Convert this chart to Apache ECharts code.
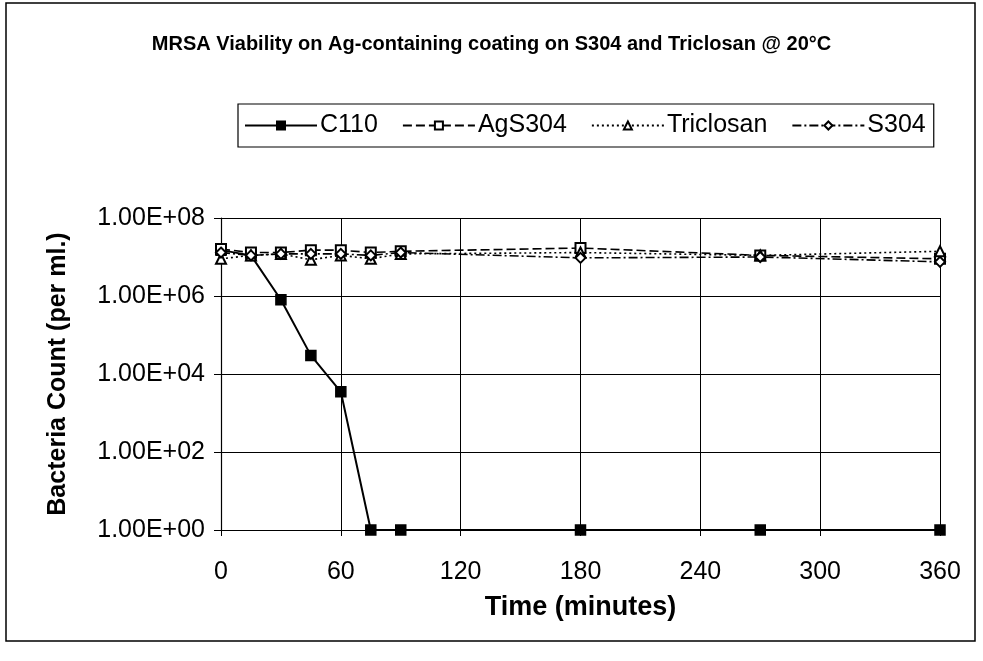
<!DOCTYPE html>
<html>
<head>
<meta charset="utf-8">
<title>MRSA Viability</title>
<script src="https://cdn.jsdelivr.net/npm/echarts@6/dist/echarts.min.js"></script>
<style>
  html, body { margin: 0; padding: 0; background: #fff; }
  #chart { width: 983px; height: 661px; }
</style>
</head>
<body>
<div id="chart"></div>
<script>
'use strict';

// sampling times (minutes)
var times = [0, 15, 30, 45, 60, 75, 90, 180, 270, 360];

// bacteria count per ml
var c110      = [1.5e7, 1.1e7, 8e5, 3e4, 3.5e3, 1, 1, 1, 1, 1];
var agS304    = [1.6e7, 1.3e7, 1.3e7, 1.5e7, 1.5e7, 1.3e7, 1.4e7, 1.7e7, 1.1e7, 9e6];
var triclosan = [9e6, 1.1e7, 1.2e7, 8.5e6, 1.1e7, 9e6, 1.2e7, 1.3e7, 1.1e7, 1.4e7];
var s304      = [1.3e7, 1.1e7, 1.2e7, 1.2e7, 1.2e7, 1.1e7, 1.3e7, 9.5e6, 1.0e7, 7.5e6];

var seriesNames = ['C110', 'AgS304', 'Triclosan', 'S304'];
var xTicks = [0, 60, 120, 180, 240, 300, 360];

var FONT = 'Liberation Sans, Arial, sans-serif';

function pairs(ys) {
  return times.map(function (t, i) { return [t, ys[i]]; });
}

// 1.00E+06 style labels
function sci(v) {
  var e = Math.round(Math.log10(v));
  var m = v / Math.pow(10, e);
  return m.toFixed(2) + 'E+' + (e < 10 ? '0' + e : e);
}

var myChart = echarts.init(document.getElementById('chart'), null, { renderer: 'canvas' });

function line(name, data, symbol, type, width) {
  return {
    name: name,
    type: 'line',
    data: pairs(data),
    symbol: symbol,
    symbolSize: 10,
    showAllSymbol: true,
    color: '#000',
    lineStyle: { color: '#000', width: width, type: type },
    itemStyle: { color: '#000', borderColor: '#000', borderWidth: 1.5 },
    emphasis: { disabled: true },
    animation: false
  };
}

var option = {
  backgroundColor: '#fff',
  animation: false,
  title: {
    text: 'MRSA Viability on Ag-containing coating on S304 and Triclosan @ 20\u00b0C',
    left: 'center',
    top: 29,
    textStyle: { fontFamily: FONT, fontWeight: 'bold', fontSize: 20, color: '#000' }
  },
  legend: {
    data: seriesNames,
    left: 238,
    top: 104,
    itemWidth: 72,
    itemHeight: 10,
    itemGap: 24,
    padding: [9, 8, 9, 6],
    borderColor: '#000',
    borderWidth: 1.2,
    backgroundColor: '#fff',
    textStyle: { fontFamily: FONT, fontSize: 25, color: '#000', padding: [0, 0, 0, -2] }
  },
  grid: { left: 221, right: 43, top: 218, bottom: 131, containLabel: false },
  xAxis: {
    type: 'value',
    min: 0,
    max: 360,
    interval: 60,
    name: 'Time (minutes)',
    nameLocation: 'middle',
    nameGap: 64,
    nameTextStyle: { fontFamily: FONT, fontWeight: 'bold', fontSize: 27, color: '#000' },
    axisLine: { lineStyle: { color: '#000', width: 1.2 } },
    axisTick: { show: true, length: 6, lineStyle: { color: '#000' } },
    axisLabel: {
      fontFamily: FONT, fontSize: 25, color: '#000', margin: 30,
      formatter: function (v) { return xTicks.indexOf(v) >= 0 ? String(v) : ''; }
    },
    splitLine: { show: true, lineStyle: { color: '#000', width: 1 } }
  },
  yAxis: {
    type: 'log',
    logBase: 100,
    min: 1,
    max: 1e8,
    name: 'Bacteria Count (per ml.)',
    nameLocation: 'middle',
    nameGap: 150,
    nameTextStyle: { fontFamily: FONT, fontWeight: 'bold', fontSize: 25, color: '#000' },
    axisLine: { show: true, lineStyle: { color: '#000', width: 1.2 } },
    axisTick: { show: true, length: 7, lineStyle: { color: '#000' } },
    axisLabel: { fontFamily: FONT, fontSize: 25, color: '#000', margin: 16, formatter: sci },
    splitLine: { show: true, lineStyle: { color: '#000', width: 1 } }
  },
  graphic: [{
    // outer chart frame
    type: 'rect',
    shape: { x: 6, y: 3, width: 969, height: 638 },
    style: { fill: 'none', stroke: '#000', lineWidth: 1.5 },
    silent: true
  }],
  series: [
    line('C110', c110, 'rect', 'solid', 2),
    line('AgS304', agS304, 'emptyRect', [9, 4], 1.6),
    line('Triclosan', triclosan, 'emptyTriangle', [2, 3], 1.6),
    line('S304', s304, 'emptyDiamond', [9, 3, 2, 3], 1.6)
  ]
};

myChart.setOption(option);
</script>
</body>
</html>
